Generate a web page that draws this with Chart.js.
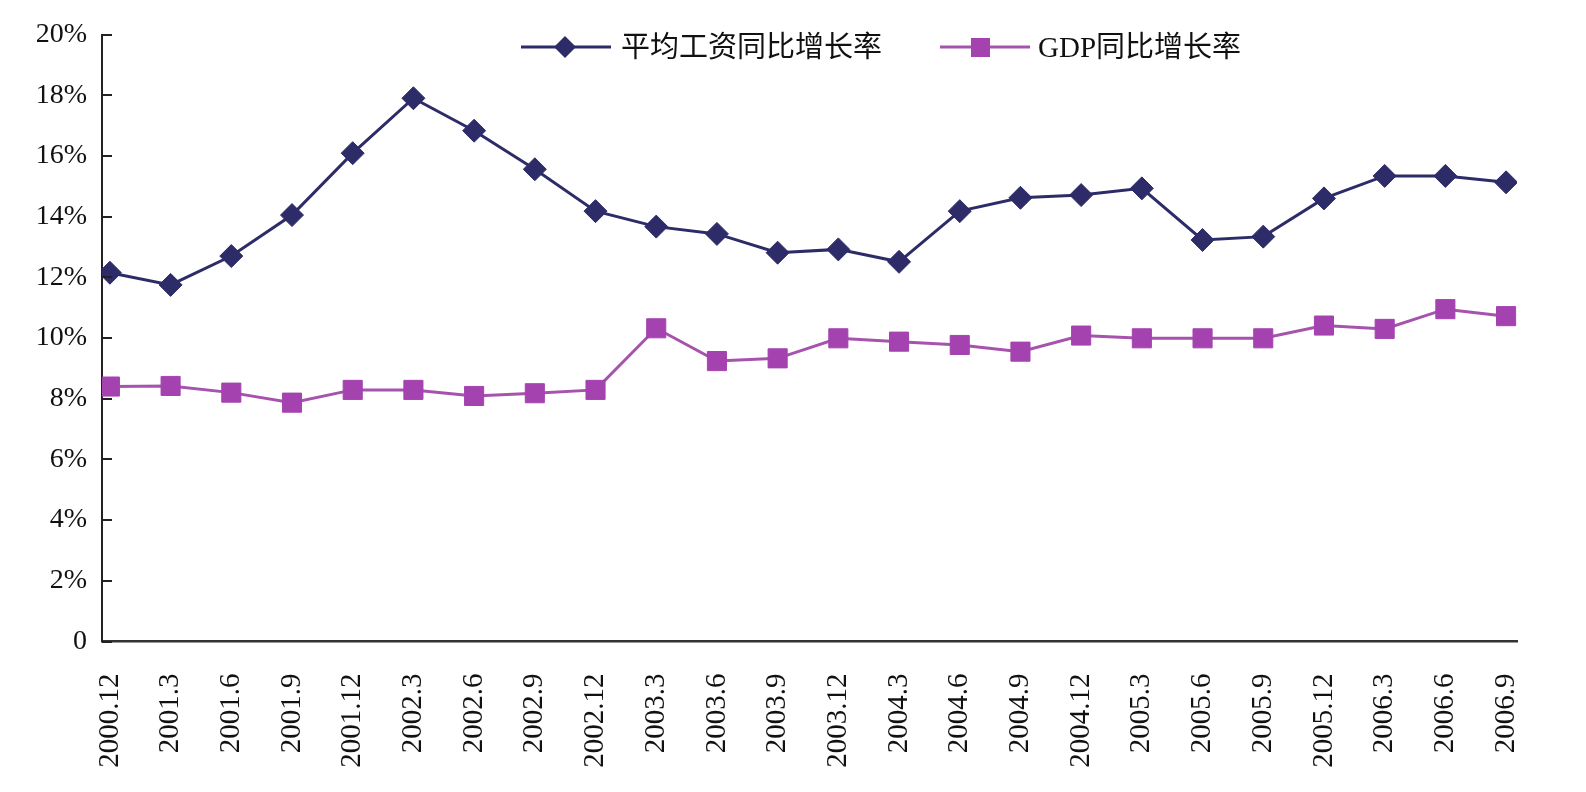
<!DOCTYPE html>
<html>
<head>
<meta charset="utf-8">
<script src="https://cdn.jsdelivr.net/npm/chart.js@4.4.1/dist/chart.umd.min.js"></script>
<style>
  html, body { margin: 0; padding: 0; background: #fff; }
  #wrap { position: relative; width: 1586px; height: 792px; }
  .leg { position: absolute; display: flex; align-items: center; font-family: "Liberation Serif", "Noto Sans CJK SC", serif; font-size: 29px; color: #111; line-height: 1; white-space: nowrap; }
  .leg svg { display: block; }
</style>
</head>
<body>
<div id="wrap">
  <canvas id="c" width="1586" height="792"></canvas>
  <div class="leg" id="leg1" style="left:521px; top:31px;">
    <svg width="90" height="32"><line x1="0" y1="16" x2="90" y2="16" stroke="#2d2c68" stroke-width="3"/><polygon points="44,5 55,16 44,27 33,16" fill="#2d2c68"/></svg>
    <span style="margin-left:10px;">平均工资同比增长率</span>
  </div>
  <div class="leg" id="leg2" style="left:940px; top:31px;">
    <svg width="90" height="32"><line x1="0" y1="16" x2="90" y2="16" stroke="#a653ad" stroke-width="3"/><rect x="31" y="7" width="19" height="19" fill="#a443b0"/></svg>
    <span style="margin-left:8px;">GDP同比增长率</span>
  </div>
</div>
<script>
const categories = ["2000.12","2001.3","2001.6","2001.9","2001.12","2002.3","2002.6","2002.9","2002.12","2003.3","2003.6","2003.9","2003.12","2004.3","2004.6","2004.9","2004.12","2005.3","2005.6","2005.9","2005.12","2006.3","2006.6","2006.9"];
const wageGrowth = [12.15,11.75,12.70,14.05,16.09,17.90,16.83,15.56,14.18,13.67,13.43,12.81,12.92,12.51,14.18,14.62,14.71,14.93,13.23,13.34,14.60,15.34,15.34,15.13];
const gdpGrowth = [8.40,8.42,8.20,7.87,8.29,8.29,8.09,8.18,8.29,10.32,9.24,9.33,9.99,9.88,9.77,9.55,10.08,9.99,9.99,9.99,10.41,10.30,10.95,10.72];
const yTicks = [0,2,4,6,8,10,12,14,16,18,20];
const seriesNames = ["平均工资同比增长率","GDP同比增长率"];

const toPoints = arr => arr.map((v, i) => ({x: i, y: v}));

const inwardTicks = {
  id: 'inwardTicks',
  afterDraw(chart) {
    const ctx = chart.ctx, y = chart.scales.y, left = chart.chartArea.left;
    ctx.save();
    ctx.strokeStyle = '#222';
    ctx.lineWidth = 2;
    y.ticks.forEach(t => {
      const py = Math.round(y.getPixelForValue(t.value));
      ctx.beginPath();
      ctx.moveTo(left, py);
      ctx.lineTo(left + 10, py);
      ctx.stroke();
    });
    ctx.restore();
  }
};

const serif = "'Liberation Serif', 'Times New Roman', serif";

new Chart(document.getElementById('c'), {
  type: 'line',
  data: {
    datasets: [
      {
        label: seriesNames[0],
        data: toPoints(wageGrowth),
        borderColor: '#2d2c68',
        backgroundColor: '#2d2c68',
        borderWidth: 3,
        pointStyle: 'rectRot',
        pointRadius: 11.5,
        pointBorderWidth: 1,
        pointBackgroundColor: '#2d2c68',
        pointBorderColor: '#2d2c68',
        tension: 0
      },
      {
        label: seriesNames[1],
        data: toPoints(gdpGrowth),
        borderColor: '#a653ad',
        backgroundColor: '#a443b0',
        borderWidth: 3,
        pointStyle: 'rect',
        pointRadius: 13.5,
        pointBorderWidth: 1,
        pointBackgroundColor: '#a443b0',
        pointBorderColor: '#a443b0',
        tension: 0
      }
    ]
  },
  options: {
    responsive: false,
    animation: false,
    devicePixelRatio: 1,
    layout: { padding: { top: 34.5, right: 69, left: 0, bottom: 0 } },
    plugins: { legend: { display: false }, tooltip: { enabled: false } },
    scales: {
      x: {
        type: 'linear',
        min: -0.13,
        max: 23.18,
        afterFit(s) { s.height = 150.5; },
        afterBuildTicks(s) { s.ticks = categories.map((_, i) => ({ value: i })); },
        grid: { display: false, drawTicks: false },
        border: { display: true, color: '#333', width: 2.5 },
        ticks: {
          autoSkip: false,
          minRotation: 90,
          maxRotation: 90,
          padding: 32,
          color: '#111',
          font: { family: serif, size: 29 },
          callback: (v) => categories[v] !== undefined ? categories[v] : ''
        }
      },
      y: {
        min: 0,
        max: 20,
        afterFit(s) { s.width = 102; },
        afterBuildTicks(s) { s.ticks = yTicks.map(v => ({ value: v })); },
        grid: { display: false, drawTicks: false },
        border: { display: true, color: '#222', width: 2 },
        ticks: {
          padding: 15,
          color: '#111',
          font: { family: serif, size: 28 },
          callback: (v) => v === 0 ? '0' : v + '%'
        }
      }
    }
  },
  plugins: [inwardTicks]
});
</script>
</body>
</html>
